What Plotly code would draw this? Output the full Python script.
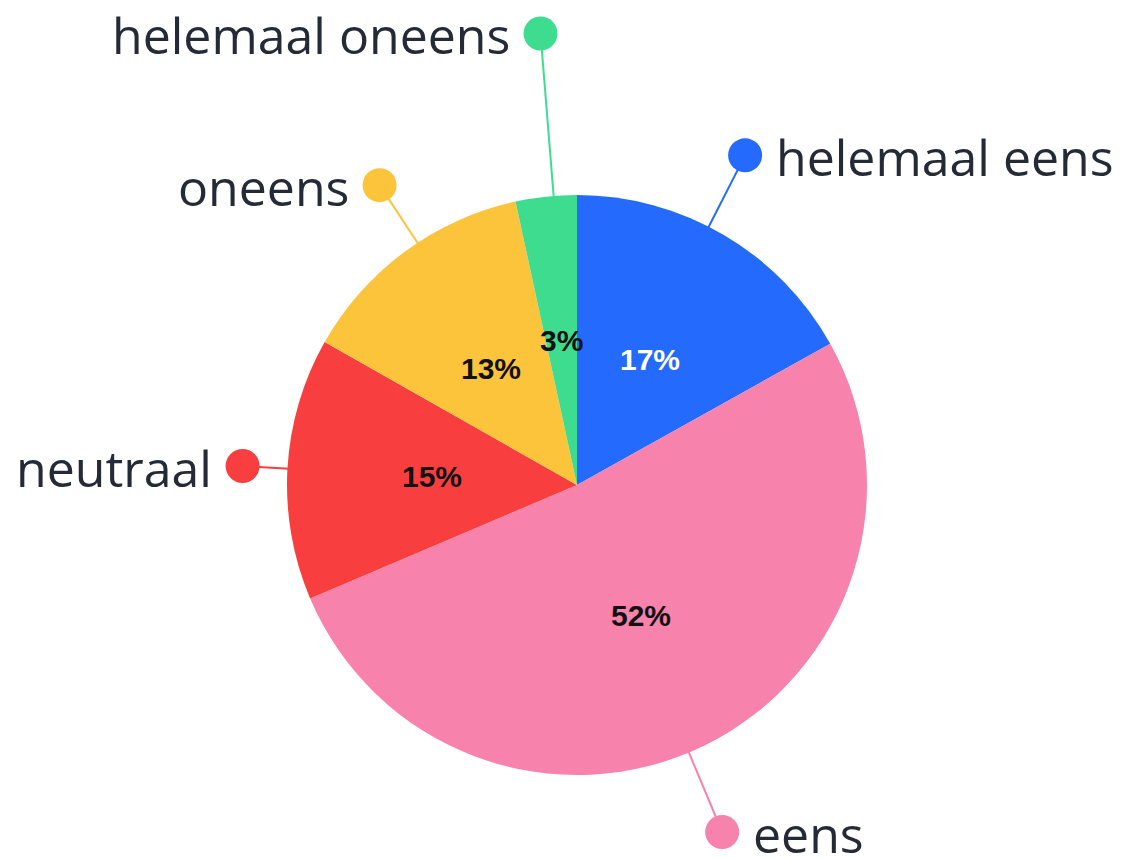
import math
import plotly.graph_objects as go

# ---- data ----
categories = ["helemaal eens", "eens", "neutraal", "oneens", "helemaal oneens"]
values = [16.9, 51.7, 14.6, 13.4, 3.4]
colors = ["#246BFD", "#F782AC", "#F83E3E", "#FCC43A", "#3DDC8F"]
pct_text_colors = ["#FFFFFF", "#111111", "#111111", "#111111", "#111111"]

# ---- layout parameters for the outside labels ----
label_angle_nudge = [-3.4, 3.4, 0.0, 3.0, 1.5]      # degrees
label_radius = [1.276, 1.297, 1.155, 1.238, 1.562]  # x pie radius

W, H = 1125, 858
OFF = 8  # page body margin
CX, CY, R = 577 - OFF, 485 - OFF, 290
DOT_R = 17
LABEL_GAP = 29
LABEL_FONT = dict(family="Open Sans", size=50, color="#252B36")
PCT_FONT_FAMILY = "Liberation Sans"


def px(x):
    return x / W


def py(y):
    return 1 - y / H


def polar(angle_deg, radius):
    a = math.radians(angle_deg)
    return CX + radius * math.sin(a), CY - radius * math.cos(a)


total = sum(values)

fig = go.Figure(
    go.Pie(
        labels=categories,
        values=values,
        sort=False,
        direction="clockwise",
        rotation=0,
        marker=dict(colors=colors, line=dict(width=0)),
        textinfo="none",
        hoverinfo="label+percent",
        showlegend=False,
        domain=dict(x=[px(CX - R), px(CX + R)], y=[py(CY + R), py(CY - R)]),
    )
)

shapes = []
annotations = []
cum = 0.0
for i, (cat, v) in enumerate(zip(categories, values)):
    start = cum / total * 360
    cum += v
    end = cum / total * 360
    mid = (start + end) / 2

    # percentage inside the slice
    tx, ty = polar(mid, R * 0.5)
    annotations.append(
        dict(
            x=px(tx), y=py(ty), xref="paper", yref="paper",
            text=f"<b>{round(v / total * 100)}%</b>", showarrow=False,
            xanchor="center", yanchor="middle",
            font=dict(family=PCT_FONT_FAMILY, size=30, color=pct_text_colors[i]),
        )
    )

    # leader line + dot + label
    la = mid + label_angle_nudge[i]
    ex, ey = polar(la, R - 2)
    dx, dy = polar(la, R * label_radius[i])
    shapes.append(
        dict(type="line", xref="paper", yref="paper",
             x0=px(ex), y0=py(ey), x1=px(dx), y1=py(dy),
             line=dict(color=colors[i], width=2))
    )
    shapes.append(
        dict(type="circle", xref="paper", yref="paper",
             x0=px(dx - DOT_R), x1=px(dx + DOT_R),
             y0=py(dy + DOT_R), y1=py(dy - DOT_R),
             fillcolor=colors[i], line=dict(width=0))
    )
    right_side = math.sin(math.radians(la)) > 0
    annotations.append(
        dict(
            x=px(dx + LABEL_GAP if right_side else dx - LABEL_GAP),
            y=py(dy + 2), xref="paper", yref="paper",
            text=cat, showarrow=False,
            xanchor="left" if right_side else "right", yanchor="middle",
            font=LABEL_FONT,
        )
    )

fig.update_layout(
    width=W, height=H,
    margin=dict(l=0, r=0, t=0, b=0),
    paper_bgcolor="white", plot_bgcolor="white",
    shapes=shapes, annotations=annotations,
)

fig.write_html("out.html")
